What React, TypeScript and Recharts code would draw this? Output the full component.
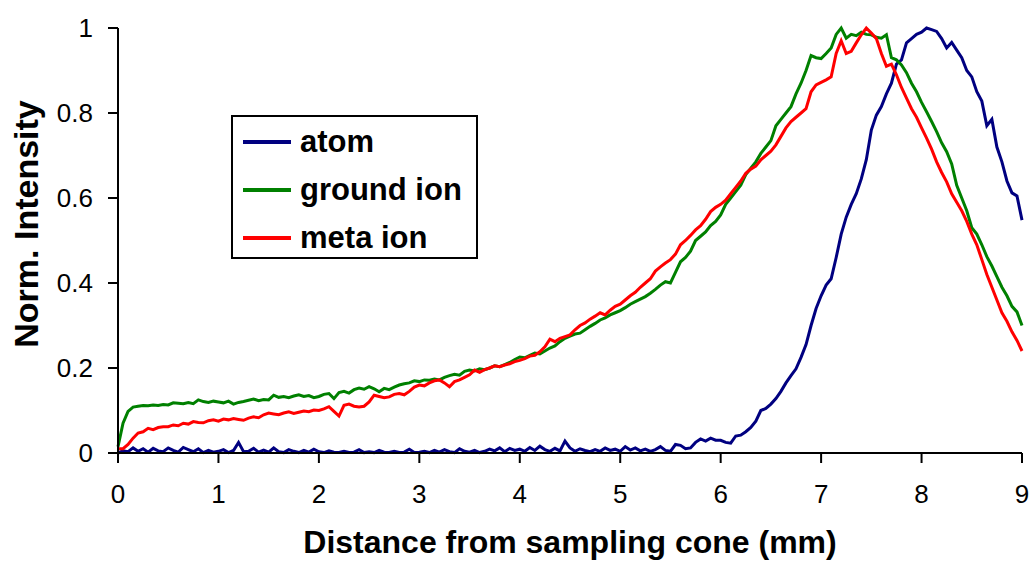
import React, { ReactElement } from 'react';
import {
  LineChart, Line, XAxis, YAxis, Legend,
} from 'recharts';

// sampling positions (mm)
const DISTANCE = [
  0.00, 0.05, 0.10, 0.15, 0.20, 0.25, 0.30, 0.35, 0.40, 0.45,
  0.50, 0.55, 0.60, 0.65, 0.70, 0.75, 0.80, 0.85, 0.90, 0.95,
  1.00, 1.05, 1.10, 1.15, 1.20, 1.25, 1.30, 1.35, 1.40, 1.45,
  1.50, 1.55, 1.60, 1.65, 1.70, 1.75, 1.80, 1.85, 1.90, 1.95,
  2.00, 2.05, 2.10, 2.15, 2.20, 2.25, 2.30, 2.35, 2.40, 2.45,
  2.50, 2.55, 2.60, 2.65, 2.70, 2.75, 2.80, 2.85, 2.90, 2.95,
  3.00, 3.05, 3.10, 3.15, 3.20, 3.25, 3.30, 3.35, 3.40, 3.45,
  3.50, 3.55, 3.60, 3.65, 3.70, 3.75, 3.80, 3.85, 3.90, 3.95,
  4.00, 4.05, 4.10, 4.15, 4.20, 4.25, 4.30, 4.35, 4.40, 4.45,
  4.50, 4.55, 4.60, 4.65, 4.70, 4.75, 4.80, 4.85, 4.90, 4.95,
  5.00, 5.05, 5.10, 5.15, 5.20, 5.25, 5.30, 5.35, 5.40, 5.45,
  5.50, 5.55, 5.60, 5.65, 5.70, 5.75, 5.80, 5.85, 5.90, 5.95,
  6.00, 6.05, 6.10, 6.15, 6.20, 6.25, 6.30, 6.35, 6.40, 6.45,
  6.50, 6.55, 6.60, 6.65, 6.70, 6.75, 6.80, 6.85, 6.90, 6.95,
  7.00, 7.05, 7.10, 7.15, 7.20, 7.25, 7.30, 7.35, 7.40, 7.45,
  7.50, 7.55, 7.60, 7.65, 7.70, 7.75, 7.80, 7.85, 7.90, 7.95,
  8.00, 8.05, 8.10, 8.15, 8.20, 8.25, 8.30, 8.35, 8.40, 8.45,
  8.50, 8.55, 8.60, 8.65, 8.70, 8.75, 8.80, 8.85, 8.90, 8.95,
  9.00,
];

const ATOM = [
  0, 0.005, 0.003, 0.012, 0.004, 0.01, 0.002, 0.011, 0.005, 0.003,
  0.012, 0.006, 0.002, 0.013, 0.008, 0.003, 0.01, 0.001, 0.006, 0.002,
  0.004, 0.008, 0.001, 0.006, 0.025, 0.003, 0.004, 0.011, 0.002, 0.007,
  0.002, 0.012, 0.003, 0.001, 0.008, 0.004, 0.001, 0.006, 0.002, 0.009,
  0.003, 0.001, 0.005, 0.002, 0.001, 0.004, 0.001, 0.002, 0.008, 0.001,
  0.003, 0.001, 0.006, 0.002, 0.001, 0.004, 0.001, 0.002, 0.009, 0.001,
  0.002, 0.004, 0.001, 0.006, 0.002, 0.008, 0.003, 0.001, 0.01, 0.004,
  0.002, 0.006, 0.001, 0.004, 0.009, 0.005, 0.012, 0.003, 0.011, 0.006,
  0.009, 0.004, 0.013, 0.006, 0.016, 0.008, 0.004, 0.011, 0.005, 0.028,
  0.012, 0.004, 0.01, 0.006, 0.003, 0.008, 0.004, 0.012, 0.006, 0.009,
  0.004, 0.015, 0.007, 0.012, 0.005, 0.009, 0.004, 0.008, 0.015, 0.006,
  0.004, 0.02, 0.018, 0.01, 0.012, 0.025, 0.033, 0.028, 0.035, 0.03,
  0.03, 0.025, 0.023, 0.04, 0.042, 0.05, 0.06, 0.075, 0.1, 0.105,
  0.115, 0.128, 0.145, 0.165, 0.182, 0.198, 0.225, 0.255, 0.3, 0.34,
  0.37, 0.395, 0.41, 0.46, 0.515, 0.555, 0.585, 0.61, 0.645, 0.69,
  0.76, 0.795, 0.815, 0.845, 0.87, 0.915, 0.925, 0.965, 0.975, 0.985,
  0.99, 1.0, 0.996, 0.992, 0.975, 0.953, 0.966, 0.948, 0.93, 0.9,
  0.885, 0.85, 0.828, 0.77, 0.785, 0.72, 0.685, 0.64, 0.612, 0.605,
  0.548,
];

const GROUND_ION = [
  0.015, 0.07, 0.098, 0.108, 0.11, 0.112, 0.111, 0.113, 0.112, 0.114,
  0.113, 0.118, 0.117, 0.116, 0.119, 0.116, 0.125, 0.121, 0.119, 0.122,
  0.12, 0.118, 0.122, 0.115, 0.119, 0.121, 0.124, 0.127, 0.123, 0.126,
  0.125, 0.136, 0.131, 0.133, 0.13, 0.134, 0.137, 0.133, 0.135, 0.13,
  0.133, 0.138, 0.14, 0.128, 0.142, 0.145, 0.141, 0.149, 0.153, 0.15,
  0.156, 0.151, 0.144, 0.152, 0.149, 0.155, 0.16, 0.163, 0.165, 0.17,
  0.168, 0.172, 0.171, 0.174, 0.172, 0.178, 0.182, 0.185, 0.183, 0.192,
  0.195, 0.193, 0.198, 0.196, 0.2, 0.205, 0.203, 0.208, 0.213, 0.22,
  0.226, 0.224, 0.23, 0.235, 0.233, 0.24, 0.247, 0.252, 0.262, 0.27,
  0.275, 0.28, 0.282, 0.29, 0.298, 0.305, 0.313, 0.318, 0.325, 0.33,
  0.335, 0.342, 0.35, 0.356, 0.362, 0.368, 0.376, 0.385, 0.395, 0.403,
  0.4, 0.425, 0.45, 0.46, 0.475, 0.5, 0.51, 0.52, 0.535, 0.545,
  0.56, 0.585, 0.6, 0.615, 0.63, 0.655, 0.67, 0.685, 0.705, 0.72,
  0.735, 0.77, 0.785, 0.8, 0.815, 0.845, 0.87, 0.9, 0.935, 0.93,
  0.928, 0.94, 0.953, 0.985, 1.0, 0.976, 0.985, 0.982, 0.99, 0.985,
  0.984, 0.978, 0.976, 0.984, 0.93, 0.925, 0.913, 0.895, 0.87, 0.85,
  0.825, 0.803, 0.78, 0.756, 0.73, 0.709, 0.68, 0.63, 0.6, 0.57,
  0.53, 0.515, 0.49, 0.462, 0.44, 0.415, 0.39, 0.37, 0.345, 0.332,
  0.3,
];

const META_ION = [
  0.01, 0.01, 0.02, 0.035, 0.047, 0.05, 0.058, 0.055, 0.06, 0.062,
  0.062, 0.066, 0.064, 0.07, 0.068, 0.074, 0.072, 0.071, 0.076, 0.078,
  0.075, 0.08, 0.078, 0.081, 0.079, 0.077, 0.082, 0.085, 0.083, 0.09,
  0.094, 0.092, 0.09, 0.094, 0.097, 0.093, 0.096, 0.099, 0.097, 0.101,
  0.1, 0.104, 0.109, 0.098, 0.087, 0.112, 0.115, 0.11, 0.108, 0.11,
  0.12, 0.136, 0.133, 0.13, 0.132, 0.138, 0.14, 0.137, 0.145, 0.155,
  0.16, 0.158, 0.165, 0.17, 0.172, 0.165, 0.156, 0.168, 0.172, 0.178,
  0.184, 0.195, 0.19, 0.196, 0.2, 0.205, 0.203, 0.207, 0.21, 0.215,
  0.218, 0.222, 0.228, 0.23, 0.238, 0.25, 0.268, 0.262, 0.27, 0.274,
  0.278, 0.29, 0.3, 0.306, 0.315, 0.322, 0.33, 0.325, 0.336, 0.345,
  0.35, 0.36, 0.37, 0.378, 0.39, 0.4, 0.41, 0.428, 0.438, 0.447,
  0.455, 0.468, 0.49, 0.5, 0.512, 0.525, 0.535, 0.55, 0.568, 0.578,
  0.585, 0.595, 0.61, 0.625, 0.64, 0.658, 0.668, 0.675, 0.69, 0.7,
  0.71, 0.725, 0.745, 0.765, 0.78, 0.79, 0.8, 0.81, 0.85, 0.866,
  0.872, 0.878, 0.885, 0.94, 0.97, 0.94, 0.945, 0.965, 0.984, 1.0,
  0.988, 0.975, 0.94, 0.91, 0.915, 0.89, 0.86, 0.835, 0.81, 0.79,
  0.765, 0.741, 0.715, 0.685, 0.66, 0.638, 0.61, 0.59, 0.57, 0.545,
  0.515, 0.49, 0.455, 0.42, 0.39, 0.36, 0.33, 0.31, 0.285, 0.265,
  0.24,
];

const X_TICKS = [0, 1, 2, 3, 4, 5, 6, 7, 8, 9];
const Y_TICKS = [0, 0.2, 0.4, 0.6, 0.8, 1];

const SERIES = [
  { key: 'atom', name: 'atom', color: '#000080' },
  { key: 'ground', name: 'ground ion', color: '#008000' },
  { key: 'meta', name: 'meta ion', color: '#FF0000' },
];

const data = DISTANCE.map((d, i) => ({
  distance: d,
  atom: ATOM[i],
  ground: GROUND_ION[i],
  meta: META_ION[i],
}));

const FONT = 'Arial, "Liberation Sans", Helvetica, sans-serif';

function LegendBox(): ReactElement {
  return (
    <div
      style={{
        width: 247,
        height: 144,
        border: '2px solid #000',
        boxSizing: 'border-box',
        background: '#fff',
        paddingTop: 1,
      }}
    >
      {SERIES.map((s) => (
        <div
          key={s.key}
          style={{
            height: 48, display: 'flex', alignItems: 'center',
          }}
        >
          <div
            style={{
              marginLeft: 10, width: 48, height: 4, background: s.color,
            }}
          />
          <span
            style={{
              marginLeft: 9,
              fontFamily: FONT,
              fontWeight: 'bold',
              fontSize: 31,
              color: '#000',
              lineHeight: '48px',
            }}
          >
            {s.name}
          </span>
        </div>
      ))}
    </div>
  );
}

// eslint-disable-next-line @typescript-eslint/no-explicit-any
const renderYLabel = (): any => (
  <text
    x={38}
    y={224}
    transform="rotate(-90, 38, 224)"
    textAnchor="middle"
    fontFamily={FONT}
    fontWeight="bold"
    fontSize={34}
    fill="#000"
  >
    Norm. Intensity
  </text>
);

function App(): ReactElement {
  const tickStyle = { fill: '#000', fontSize: 26, fontFamily: FONT };
  return (
    <div style={{ position: 'absolute', left: 0, top: 0 }}>
      <LineChart
        width={1030}
        height={561}
        data={data}
        margin={{
          top: 28, right: 8, bottom: 0, left: 0,
        }}
      >
        <XAxis
          dataKey="distance"
          type="number"
          domain={[0, 9]}
          ticks={X_TICKS}
          height={108}
          tickSize={10}
          tickMargin={22}
          tick={tickStyle}
          axisLine={{ stroke: '#000', strokeWidth: 2 }}
          tickLine={{ stroke: '#000', strokeWidth: 2 }}
          label={{
            value: 'Distance from sampling cone (mm)',
            position: 'insideBottom',
            offset: 8,
            fill: '#000',
            fontSize: 32,
            fontWeight: 'bold',
            fontFamily: FONT,
          }}
        />
        <YAxis
          type="number"
          domain={[0, 1]}
          ticks={Y_TICKS}
          width={118}
          tickSize={10}
          tickMargin={15}
          tick={tickStyle}
          axisLine={{ stroke: '#000', strokeWidth: 2 }}
          tickLine={{ stroke: '#000', strokeWidth: 2 }}
          label={renderYLabel}
        />
        <Legend
          layout="vertical"
          align="center"
          verticalAlign="middle"
          content={() => <LegendBox />}
          wrapperStyle={{
            left: 231, top: 115, width: 247, height: 144,
          }}
        />
        {SERIES.map((s) => (
          <Line
            key={s.key}
            type="linear"
            dataKey={s.key}
            name={s.name}
            stroke={s.color}
            strokeWidth={3}
            dot={false}
            activeDot={false}
            isAnimationActive={false}
          />
        ))}
      </LineChart>
    </div>
  );
}

export default App;
